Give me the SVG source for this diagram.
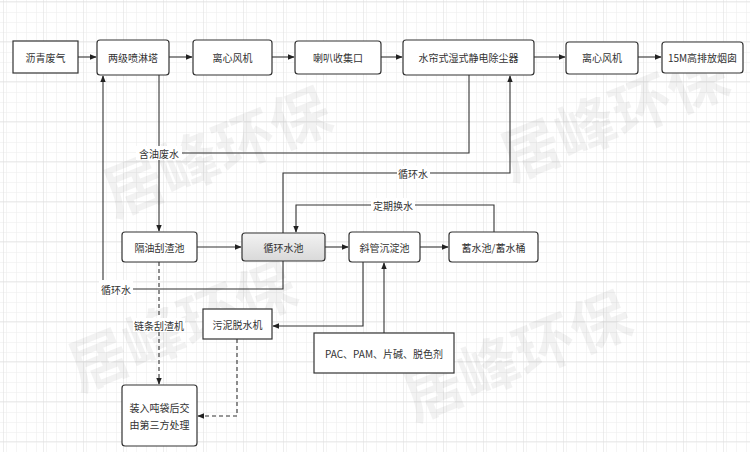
<svg xmlns="http://www.w3.org/2000/svg" width="750" height="452" viewBox="0 0 750 452">
<defs>
<pattern id="gsmall" width="10" height="10" patternUnits="userSpaceOnUse" x="3" y="1">
<path d="M10 0H0V10" fill="none" stroke="#ebebeb" stroke-width="1"/>
</pattern>
<pattern id="gbig" width="40" height="40" patternUnits="userSpaceOnUse" x="3" y="1">
<rect width="40" height="40" fill="url(#gsmall)"/>
<path d="M40 0H0V40" fill="none" stroke="#dcdcdc" stroke-width="1"/>
</pattern>
<marker id="arr" viewBox="0 0 10 10" refX="9" refY="5" markerWidth="7" markerHeight="7" orient="auto" markerUnits="userSpaceOnUse">
<path d="M0,1 L10,5 L0,9 Z" fill="#222"/>
</marker>
<linearGradient id="gray" x1="0" y1="0" x2="0" y2="1">
<stop offset="0" stop-color="#f2f2f2"/>
<stop offset="1" stop-color="#d9d9d9"/>
</linearGradient>
</defs>
<style>
.box{fill:#fff;stroke:#333;stroke-width:1.2}
.t{font-family:"Noto Sans CJK SC","Liberation Sans",sans-serif;font-size:10px;fill:#333;text-anchor:middle;dominant-baseline:central}
.e{fill:none;stroke:#333;stroke-width:1.1}
.d{fill:none;stroke:#333;stroke-width:1.1;stroke-dasharray:4 3}
.lbl{fill:#fff}
.wm{font-family:"Noto Sans CJK SC",sans-serif;font-size:60px;font-weight:bold;fill:#000;fill-opacity:0.05;text-anchor:middle;dominant-baseline:central}
</style>
<rect width="750" height="452" fill="#fff"/>
<rect width="750" height="452" fill="url(#gbig)"/>
<g id="watermark">
<text class="wm" transform="translate(215,148) rotate(-22)">居峰环保</text>
<text class="wm" transform="translate(612,112) rotate(-22)">居峰环保</text>
<text class="wm" transform="translate(180,322) rotate(-22)">居峰环保</text>
<text class="wm" transform="translate(515,352) rotate(-22)">居峰环保</text>
</g>
<g id="connectors">
<path class="e" d="M78,57 H96" marker-end="url(#arr)"/>
<path class="e" d="M169,57 H192" marker-end="url(#arr)"/>
<path class="e" d="M272,57 H294" marker-end="url(#arr)"/>
<path class="e" d="M381,57 H402" marker-end="url(#arr)"/>
<path class="e" d="M534,57 H565" marker-end="url(#arr)"/>
<path class="e" d="M638,57 H661" marker-end="url(#arr)"/>
<path class="e" d="M159,75 V153"/>
<path class="e" d="M469,75 V153 H159 V231" marker-end="url(#arr)"/>
<path class="e" d="M283,233 V173 H510 V76" marker-end="url(#arr)"/>
<path class="e" d="M494,232 V205 H296 V232" marker-end="url(#arr)"/>
<path class="e" d="M283,261 V289 H103 V76" marker-end="url(#arr)"/>
<path class="e" d="M197,247 H241" marker-end="url(#arr)"/>
<path class="e" d="M325,247 H348" marker-end="url(#arr)"/>
<path class="e" d="M420,247 H448" marker-end="url(#arr)"/>
<path class="e" d="M363,262 V326 H273" marker-end="url(#arr)"/>
<path class="e" d="M384,333 V263" marker-end="url(#arr)"/>
<path class="d" d="M159,262 V384" marker-end="url(#arr)"/>
<path class="d" d="M237,339 V416 H198" marker-end="url(#arr)"/>
<rect class="lbl" x="136" y="146" width="46" height="14"/>
<text class="t" x="159" y="153">含油废水</text>
<rect class="lbl" x="397" y="166" width="33" height="14"/>
<text class="t" x="413" y="173">循环水</text>
<rect class="lbl" x="371" y="198" width="44" height="14"/>
<text class="t" x="393" y="205">定期换水</text>
<rect class="lbl" x="99" y="280" width="34" height="16"/>
<text class="t" x="116" y="289">循环水</text>
<rect class="lbl" x="133" y="318" width="52" height="14"/>
<text class="t" x="159" y="325">链条刮渣机</text>
</g>
<g id="n1"><rect class="box" x="13" y="41" width="65" height="32"/><text class="t" x="45.5" y="57">沥青废气</text></g>
<g id="n2"><rect class="box" x="97" y="40" width="72" height="35" rx="3"/><text class="t" x="133" y="57">两级喷淋塔</text></g>
<g id="n3"><rect class="box" x="193" y="40" width="79" height="35" rx="3"/><text class="t" x="232.5" y="57">离心风机</text></g>
<g id="n4"><rect class="box" x="295" y="41" width="86" height="33" rx="3"/><text class="t" x="338" y="57">喇叭收集口</text></g>
<g id="n5"><rect class="box" x="403" y="40" width="131" height="35" rx="3"/><text class="t" x="468.5" y="57">水帘式湿式静电除尘器</text></g>
<g id="n6"><rect class="box" x="566" y="42" width="72" height="32" rx="3"/><text class="t" x="602" y="57">离心风机</text></g>
<g id="n7"><rect class="box" x="662" y="42" width="81" height="31" rx="3"/><text class="t" x="702.5" y="57">15M高排放烟囱</text></g>
<g id="n8"><rect class="box" x="122" y="232" width="75" height="30" rx="3"/><text class="t" x="159.5" y="247">隔油刮渣池</text></g>
<g id="n9"><rect x="242" y="233" width="83" height="28" rx="3" fill="url(#gray)" stroke="#333" stroke-width="1.2"/><text class="t" x="283.5" y="247">循环水池</text></g>
<g id="n10"><rect class="box" x="349" y="232" width="71" height="30" rx="3"/><text class="t" x="384.5" y="247">斜管沉淀池</text></g>
<g id="n11"><rect class="box" x="449" y="232" width="89" height="30" rx="3"/><text class="t" x="493.5" y="247">蓄水池/蓄水桶</text></g>
<g id="n12"><rect class="box" x="203" y="309" width="69" height="30"/><text class="t" x="237.5" y="324">污泥脱水机</text></g>
<g id="n13"><rect class="box" x="314" y="333" width="140" height="40"/><text class="t" x="384" y="353">PAC、PAM、片碱、脱色剂</text></g>
<g id="n14"><rect class="box" x="122" y="385" width="75" height="61" rx="3"/><text class="t" x="159.5" y="407">装入吨袋后交</text><text class="t" x="159.5" y="424">由第三方处理</text></g>
</svg>
